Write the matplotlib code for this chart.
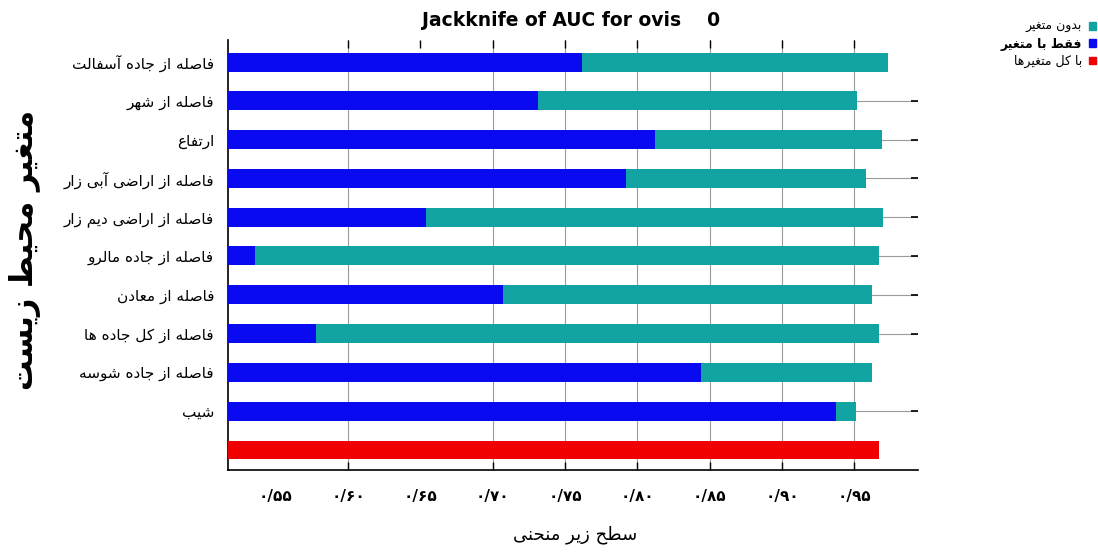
import matplotlib
matplotlib.use('Agg')
import matplotlib.pyplot as plt
from matplotlib.patches import Patch

# ---------------- data ----------------
categories = [
    'فاصله از جاده آسفالت',
    'فاصله از شهر',
    'ارتفاع',
    'فاصله از اراضی آبی زار',
    'فاصله از اراضی دیم زار',
    'فاصله از جاده مالرو',
    'فاصله از معادن',
    'فاصله از کل جاده ها',
    'فاصله از جاده شوسه',
    'شیب',
]
auc_without = [0.973, 0.952, 0.969, 0.958, 0.970, 0.967, 0.962, 0.967, 0.962, 0.951]
auc_only = [0.762, 0.731, 0.812, 0.792, 0.654, 0.536, 0.707, 0.578, 0.844, 0.937]
auc_all = 0.967

x_ticks = [0.55, 0.60, 0.65, 0.70, 0.75, 0.80, 0.85, 0.90, 0.95]
x_tick_labels = ['۰/۵۵', '۰/۶۰', '۰/۶۵', '۰/۷۰', '۰/۷۵', '۰/۸۰', '۰/۸۵', '۰/۹۰', '۰/۹۵']

legend_labels = ['بدون متغیر', 'فقط با متغیر', 'با کل متغیرها']
title_text = 'Jackknife of AUC for ovis    0'
x_label = 'سطح زیر منحنی'
y_label = 'متغیر محیط زیست'

# ---------------- minimal Persian shaping ----------------
FORMS = {
    '\u0622': ('\uFE81', '\uFE82', None, None),
    '\u0627': ('\uFE8D', '\uFE8E', None, None),
    '\u0628': ('\uFE8F', '\uFE90', '\uFE91', '\uFE92'),
    '\u067E': ('\uFB56', '\uFB57', '\uFB58', '\uFB59'),
    '\u062A': ('\uFE95', '\uFE96', '\uFE97', '\uFE98'),
    '\u062C': ('\uFE9D', '\uFE9E', '\uFE9F', '\uFEA0'),
    '\u062D': ('\uFEA1', '\uFEA2', '\uFEA3', '\uFEA4'),
    '\u062F': ('\uFEA9', '\uFEAA', None, None),
    '\u0631': ('\uFEAD', '\uFEAE', None, None),
    '\u0632': ('\uFEAF', '\uFEB0', None, None),
    '\u0633': ('\uFEB1', '\uFEB2', '\uFEB3', '\uFEB4'),
    '\u0634': ('\uFEB5', '\uFEB6', '\uFEB7', '\uFEB8'),
    '\u0635': ('\uFEB9', '\uFEBA', '\uFEBB', '\uFEBC'),
    '\u0636': ('\uFEBD', '\uFEBE', '\uFEBF', '\uFEC0'),
    '\u0637': ('\uFEC1', '\uFEC2', '\uFEC3', '\uFEC4'),
    '\u0639': ('\uFEC9', '\uFECA', '\uFECB', '\uFECC'),
    '\u063A': ('\uFECD', '\uFECE', '\uFECF', '\uFED0'),
    '\u0641': ('\uFED1', '\uFED2', '\uFED3', '\uFED4'),
    '\u0642': ('\uFED5', '\uFED6', '\uFED7', '\uFED8'),
    '\u06A9': ('\uFB8E', '\uFB8F', '\uFB90', '\uFB91'),
    '\u0644': ('\uFEDD', '\uFEDE', '\uFEDF', '\uFEE0'),
    '\u0645': ('\uFEE1', '\uFEE2', '\uFEE3', '\uFEE4'),
    '\u0646': ('\uFEE5', '\uFEE6', '\uFEE7', '\uFEE8'),
    '\u0647': ('\uFEE9', '\uFEEA', '\uFEEB', '\uFEEC'),
    '\u0648': ('\uFEED', '\uFEEE', None, None),
    '\u06CC': ('\uFBFC', '\uFBFD', '\uFBFE', '\uFBFF'),
}
LAM_ALEF = {'\u0627': ('\uFEFB', '\uFEFC'), '\u0622': ('\uFEF5', '\uFEF6')}


def _dual(c):
    return c in FORMS and FORMS[c][2] is not None


def shape(text):
    chars = list(text)
    n = len(chars)
    res = []
    i = 0
    while i < n:
        c = chars[i]
        if c not in FORMS:
            res.append(c)
            i += 1
            continue
        prev = chars[i - 1] if i > 0 else None
        join_prev = prev is not None and _dual(prev)
        if c == '\u0644' and i + 1 < n and chars[i + 1] in LAM_ALEF:
            lig = LAM_ALEF[chars[i + 1]]
            res.append(lig[1] if join_prev else lig[0])
            i += 2
            continue
        nxt = chars[i + 1] if i + 1 < n else None
        join_next = _dual(c) and nxt is not None and nxt in FORMS
        iso, fin, ini, med = FORMS[c]
        if join_prev and join_next:
            g = med
        elif join_prev:
            g = fin
        elif join_next:
            g = ini
        else:
            g = iso
        res.append(g)
        i += 1
    return ''.join(reversed(res))


# ---------------- plot ----------------
plt.rcParams['font.family'] = ['DejaVu Sans']
TEAL = '#12A3A3'
BLUE = '#0A0AF0'
RED = '#F00000'

W, H = 1098, 554
fig = plt.figure(figsize=(W / 100, H / 100), dpi=100)
fig.patch.set_facecolor('white')
ax = fig.add_axes([228 / W, 1 - 470 / H, 690 / W, 430 / H])

xmin, xmax = 0.517, 0.994
n = len(categories)
ypos = list(range(n))
ax.barh(ypos, [v - xmin for v in auc_without], left=xmin, height=0.49,
        color=TEAL, zorder=2)
ax.barh(ypos, [v - xmin for v in auc_only], left=xmin, height=0.49,
        color=BLUE, zorder=3)
ax.barh([n], [auc_all - xmin], left=xmin, height=0.47, color=RED, zorder=3)

ax.set_xlim(xmin, xmax)
ax.set_ylim(n + 0.52, -0.57)

ax.set_yticks(list(range(n + 1)))
ax.set_yticklabels([shape(c) for c in categories] + [''], fontsize=11)
ax.set_xticks(x_ticks)
ax.set_xticklabels(x_tick_labels, fontsize=11, fontweight='bold')

ax.tick_params(axis='y', left=False, right=True, labelleft=True,
               direction='in', length=5, width=1.2, color='black', pad=10)
ax.tick_params(axis='x', bottom=True, top=True, labeltop=False,
               direction='in', length=6, width=1, color='black', pad=14)

ax.grid(True, color='#9a9a9a', linewidth=0.8)
ax.set_axisbelow(True)

# gridlines / tick marks missing in the reference
for i in (0, 8, 10):
    t = ax.yaxis.get_major_ticks()[i]
    t.gridline.set_visible(False)
    t.tick2line.set_visible(False)
xt = ax.xaxis.get_major_ticks()
for i in (0, 2):
    xt[i].gridline.set_visible(False)
    xt[i].tick1line.set_visible(False)
xt[0].tick2line.set_visible(False)

for s in ('top', 'right'):
    ax.spines[s].set_visible(False)
for s in ('left', 'bottom'):
    ax.spines[s].set_color('black')
    ax.spines[s].set_linewidth(1.2)

fig.text(571 / W, 1 - 21 / H, title_text, ha='center', va='center',
         fontsize=13.5, fontweight='bold')
fig.text(575 / W, 1 - 535 / H, shape(x_label), ha='center', va='center',
         fontsize=13)
fig.text(25 / W, 1 - 250 / H, shape(y_label), ha='center', va='center',
         rotation=90, fontsize=22, fontweight='bold')

handles = [Patch(color=TEAL), Patch(color=BLUE), Patch(color=RED)]
leg = fig.legend(handles, [shape(t) for t in legend_labels],
                 loc='upper right', bbox_to_anchor=(1096 / W, 1 - 20 / H),
                 frameon=False, markerfirst=False, fontsize=9,
                 handlelength=0.6, handleheight=0.6, handletextpad=0.5,
                 labelspacing=0.35, borderpad=0, borderaxespad=0)
leg.get_texts()[1].set_fontweight('bold')

fig.savefig('out.png', dpi=100, facecolor='white')
